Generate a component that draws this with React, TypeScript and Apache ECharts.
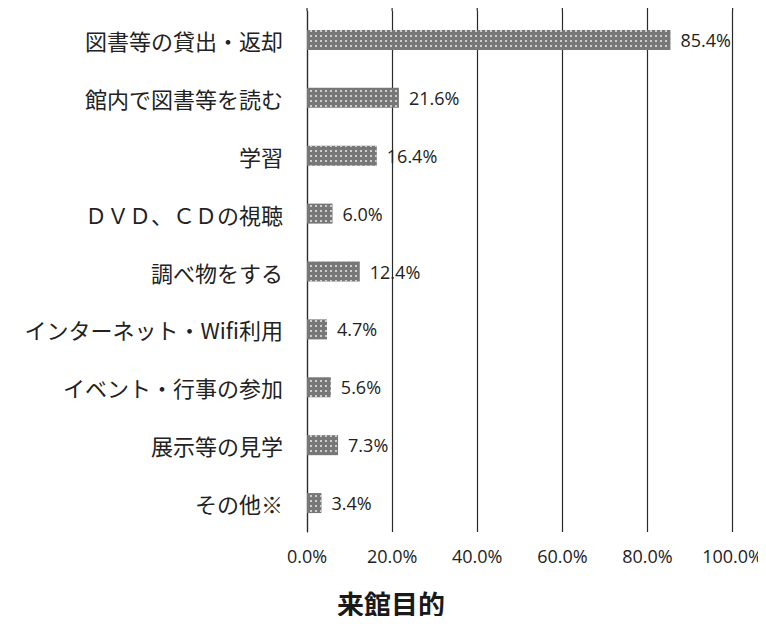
import React, { useEffect, useRef } from "react";
import * as echarts from "echarts";

const categories = [
  "図書等の貸出・返却",
  "館内で図書等を読む",
  "学習",
  "ＤＶＤ、ＣＤの視聴",
  "調べ物をする",
  "インターネット・Wifi利用",
  "イベント・行事の参加",
  "展示等の見学",
  "その他※",
];
const values = [85.4, 21.6, 16.4, 6.0, 12.4, 4.7, 5.6, 7.3, 3.4];
const xTicks = [0, 20, 40, 60, 80, 100];
const title = "来館目的";

export default function App() {
  const ref = useRef<HTMLDivElement>(null);
  useEffect(() => {
    if (!ref.current) return;
    const chart = echarts.init(ref.current, null, { renderer: "svg" });
    const gridTop = 11;
    chart.setOption({
      animation: false,
      backgroundColor: "#ffffff",
      title: {
        text: title,
        left: 391,
        textAlign: "center",
        top: 586,
        padding: 0,
        textStyle: {
          fontFamily: "Noto Sans CJK JP",
          fontWeight: "bold",
          fontSize: 27,
          lineHeight: 34,
          color: "#1a1a1a",
        },
      },
      grid: { left: 307, right: 33, top: gridTop, bottom: 92 },
      xAxis: {
        type: "value",
        min: xTicks[0],
        max: xTicks[xTicks.length - 1],
        interval: 20,
        axisLine: { show: false },
        axisTick: { show: false },
        splitLine: { show: true, lineStyle: { color: "#2a2a2a", width: 1.2 } },
        axisLabel: {
          margin: 15,
          formatter: (v: number) => v.toFixed(1) + "%",
          fontFamily: "Open Sans",
          fontSize: 18,
          color: "#222",
        },
      },
      yAxis: {
        type: "category",
        inverse: true,
        data: categories,
        axisLine: { show: true, lineStyle: { color: "#2a2a2a", width: 1.2 } },
        axisTick: { show: false },
        axisLabel: {
          margin: 24,
          fontFamily: "Noto Sans CJK JP",
          fontSize: 22,
          color: "#222",
        },
      },
      series: [
        {
          type: "bar",
          data: values,
          barWidth: 20,
          itemStyle: {
            color: "#777777",
            decal: {
              symbol: "rect",
              symbolSize: 1,
              color: "rgba(215,215,215,0.9)",
              dashArrayX: [2, 3],
              dashArrayY: [2, 3],
              rotation: 0,
            },
          },
          label: {
            show: true,
            position: "right",
            distance: 10,
            formatter: (p: any) => p.value.toFixed(1) + "%",
            fontFamily: "Open Sans",
            fontSize: 18,
            color: "#222",
          },
        },
      ],
    });
    const ext = xTicks.map((t) => {
      const x = chart.convertToPixel({ xAxisIndex: 0 }, t) as number;
      return {
        type: "line",
        shape: { x1: x, y1: 0, x2: x, y2: gridTop },
        style: { stroke: "#2a2a2a", lineWidth: 1.2 },
      };
    });
    chart.setOption({ graphic: ext });
    return () => chart.dispose();
  }, []);
  return <div ref={ref} style={{ width: 766, height: 624, margin: -8 }} />;
}
